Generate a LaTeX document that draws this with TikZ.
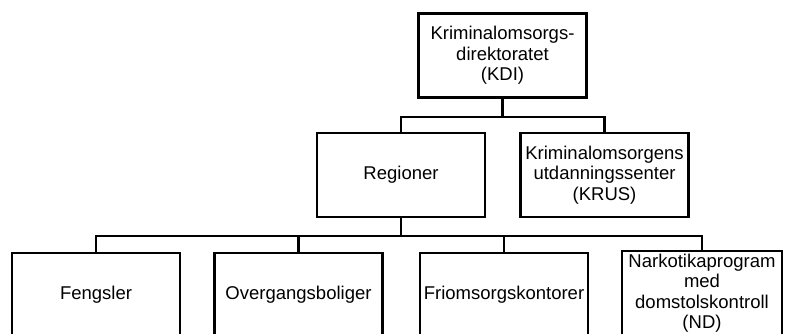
\documentclass[tikz,border=0pt]{standalone}
\usepackage{fontspec}
\setmainfont{Liberation Sans}
\begin{document}
\begin{tikzpicture}[x=1pt,y=-1pt,
    box/.style={draw, line width=2.4pt, minimum width=168pt, minimum height=84pt, inner sep=0pt, align=center, font=\fontsize{18.5}{20.5}\selectfont},
    link/.style={line width=2.4pt}]

    \useasboundingbox (0,0) rectangle (786,333);

    \node[box] (kdi) at (502.5,55.5) {Kriminalomsorgs-\\direktoratet\\(KDI)};
    \node[box] (reg) at (401,175) {Regioner};
    \node[box] (krus) at (604.5,175) {Kriminalomsorgens\\utdanningssenter\\(KRUS)};

    \node[box] (feng) at (96,295) {Fengsler};
    \node[box] (overg) at (298.5,295) {Overgangsboliger};
    \node[box] (friom) at (504,295) {Friomsorgskontorer};
    \node[box, minimum width=160pt] (nark) at (702,293) {Narkotikaprogram\\med\\domstolskontroll\\(ND)};

    \draw[link] (kdi.south) -- ++(0,-18pt) -| (reg.north);
    \draw[link] (kdi.south) ++(0,-18pt) -| (krus.north);

    \draw[link] (reg.south) -- ++(0,-18pt) -| (feng.north);
    \draw[link] (reg.south) ++(0,-18pt) -| (overg.north);
    \draw[link] (reg.south) ++(0,-18pt) -| (friom.north);
    \draw[link] (reg.south) ++(0,-18pt) -| (nark.north);
\end{tikzpicture}
\end{document}
